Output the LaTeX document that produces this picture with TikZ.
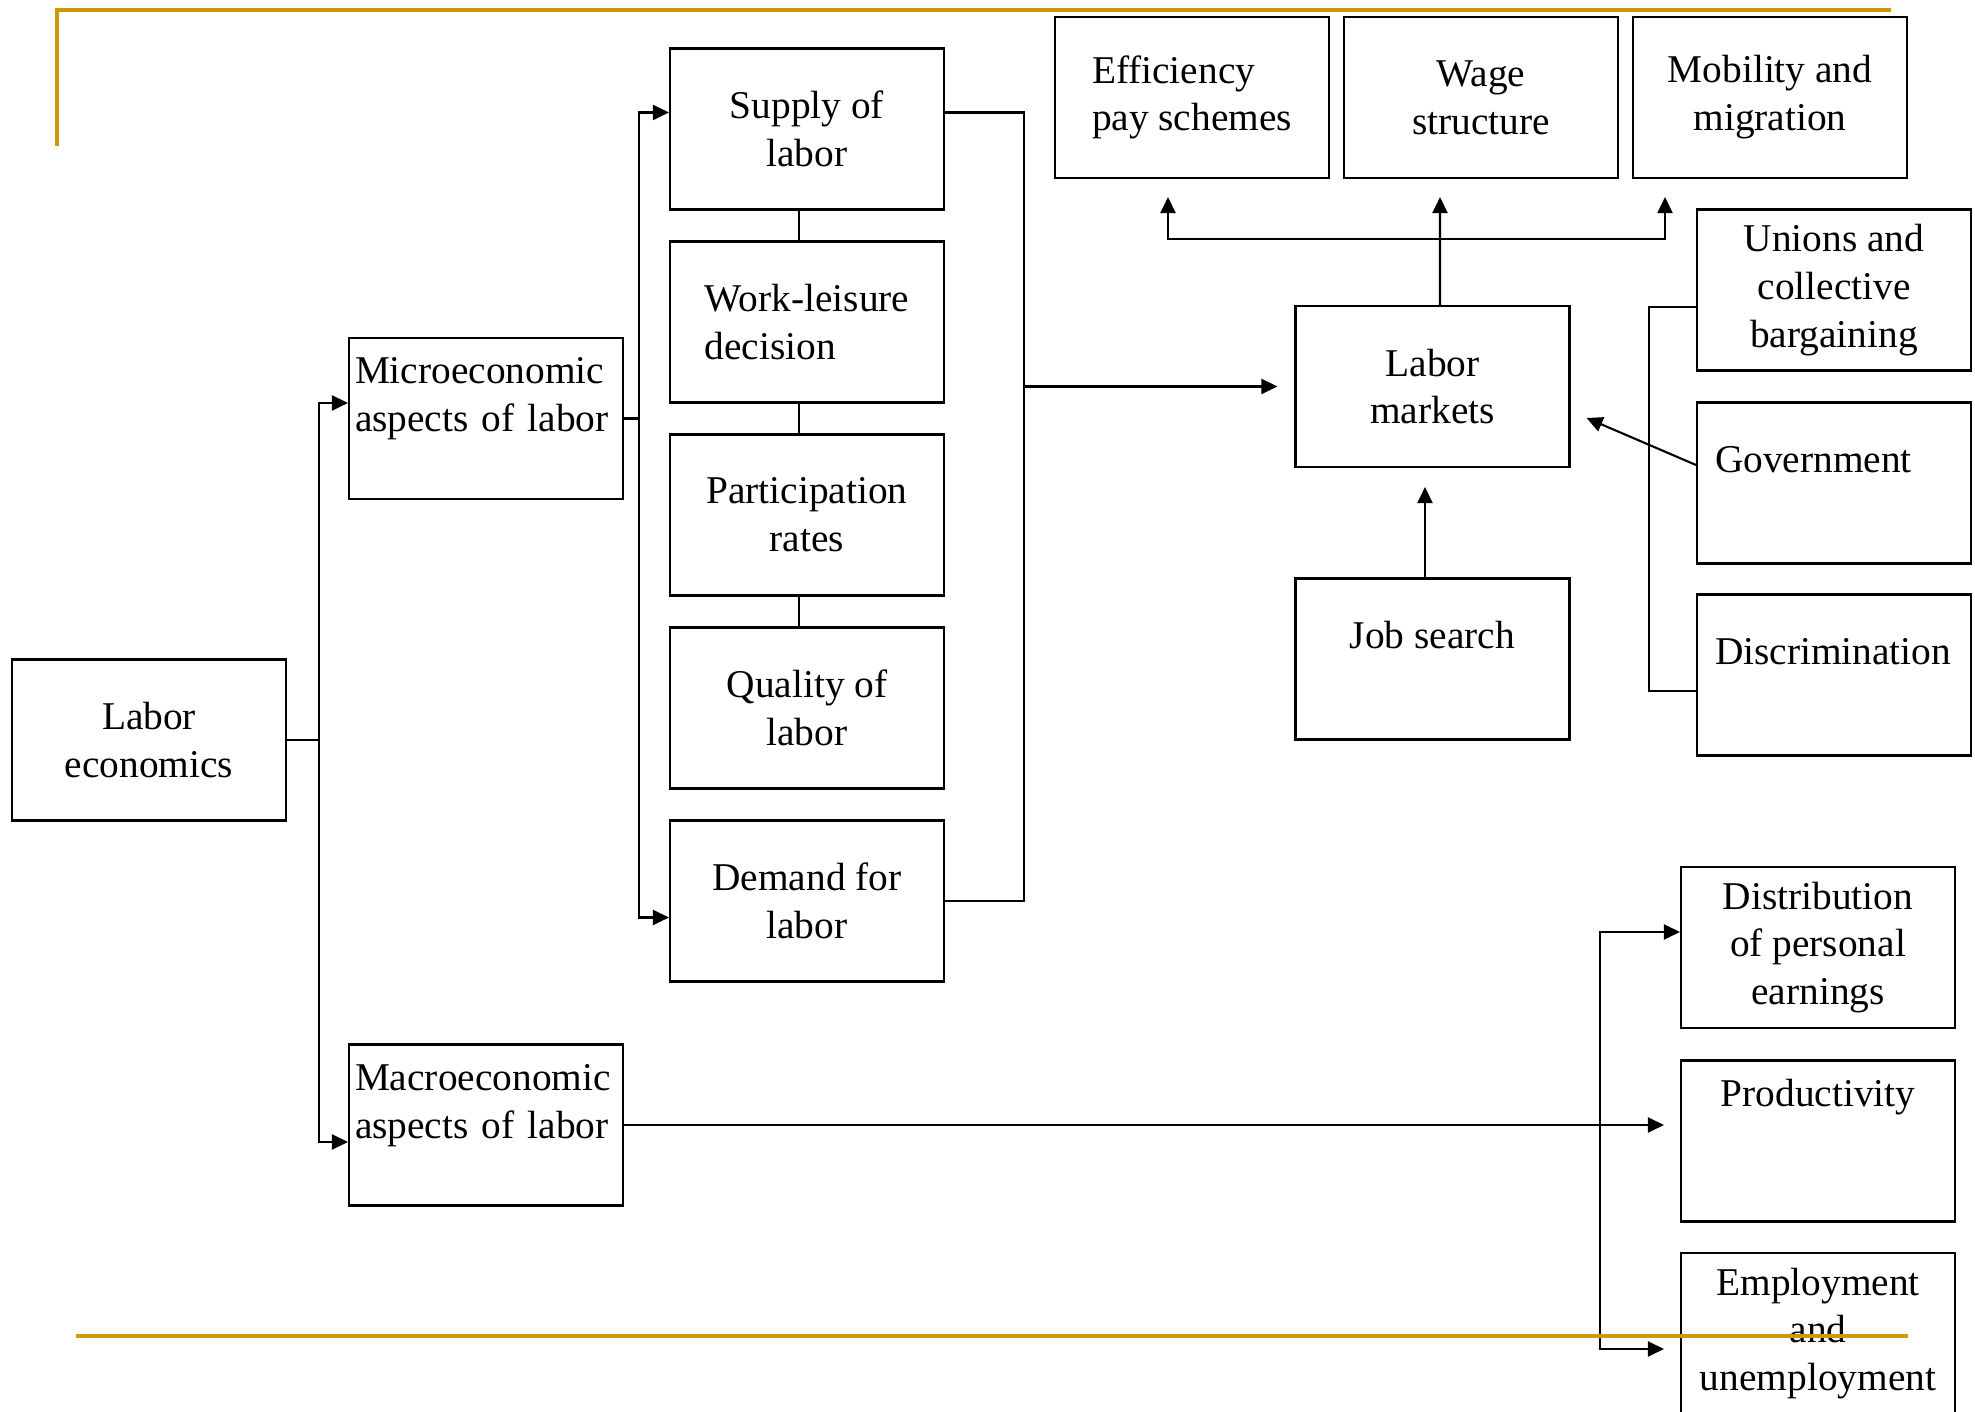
\documentclass[tikz,border=0pt]{standalone}
\usepackage{fontspec}
\setmainfont{Liberation Serif}
\usepackage{tikz}
\usetikzlibrary{math}
\usetikzlibrary{arrows.meta}
\definecolor{gold}{RGB}{204,153,0}
\newcommand{\boxfont}{\fontsize{11.2}{13.6}\selectfont}
\tikzset{
  box/.style={draw,line width=0.6pt,minimum width=2.74cm,minimum height=1.61cm,inner sep=0pt,align=center,font=\boxfont},
  link/.style={line width=0.6pt},
  arr/.style={line width=0.6pt,-{Triangle[length=1.6mm,width=1.5mm]}},
  rule/.style={gold,line width=1.2pt}
}

\begin{document}
\begin{tikzpicture}
\useasboundingbox (0,0) rectangle (19.75,14.12);
\tikzmath{
\colx=8.07;
\dy=1.93;
\topy=13.145;
\midx=14.325;
\rx=18.34;
\lx=18.18;
}
%%%% gold rule at the top
\draw[rule] (0.57,12.66) -- (0.57,14.02) -- (18.91,14.02);
%%%%%% left part
\node[box] (econ) at (1.49,6.72) {Labor\\economics};
\node[box,text width=2.62cm,align=left] (micro) at (4.86,9.935) {Microeconomic\\aspects of labor\\~};
\node[box,text width=2.62cm,align=left] (macro) at (4.86,2.87) {Macroeconomic\\aspects of labor\\~};
%%%%%% supply column
\node[box] (supply) at (\colx,12.83) {Supply of\\labor};
\node[box,align=left] (work) at (\colx,12.83-\dy) {Work-leisure\\decision};
\node[box] (partic) at (\colx,12.83-2*\dy) {Participation\\rates};
\node[box] (quality) at (\colx,12.83-3*\dy) {Quality of\\labor};
\node[box] (demand) at (\colx,12.83-4*\dy) {Demand for\\labor};
%%%%%% top row
\node[box,align=left] (effic) at (11.92,\topy) {Efficiency\\pay schemes};
\node[box] (wage) at (14.81,\topy) {Wage\\structure};
\node[box] (mobil) at (17.70,\topy) {Mobility and\\migration};
%%%%%% markets
\node[box] (market) at (\midx,10.255) {Labor\\markets};
\node[box] (search) at (\midx,7.53) {Job search\\~};
%%%%%% institutions
\node[box] (unions) at (\rx,11.22) {Unions and\\collective\\bargaining};
\node[box,text width=2.38cm,align=left] (govt) at (\rx,9.29) {Government\\~};
\node[box,text width=2.38cm,align=left] (discr) at (\rx,7.37) {Discrimination\\~};
%%%%%% macro outcomes
\node[box] (distr) at (\lx,4.645) {Distribution\\of personal\\earnings};
\node[box] (produ) at (\lx,2.71) {Productivity\\~\\~};
\node[box] (emplo) at (\lx,0.785) {Employment\\and\\unemployment};
%%%% labor economics -> micro / macro
\draw[arr] (econ.east) -- ++(0.32,0) |- ([yshift=1.55mm]micro.west);
\draw[arr] (econ.east) -- ++(0.32,0) |- ([yshift=-1.7mm]macro.west);
%%%% micro -> supply / demand
\draw[arr] (micro.east) -- ++(0.15,0) |- ([yshift=1.65mm]supply.west);
\draw[arr] (micro.east) -- ++(0.15,0) |- ([yshift=-1.65mm]demand.west);
\foreach \a/\b in {supply/work,work/partic,partic/quality} {
    \draw[link] ([xshift=-0.8mm]\a.south) -- ([xshift=-0.8mm]\b.north);
}
%%%% supply + demand -> labor markets
\path ([yshift=1.65mm]supply.east) ++(0.79,0) coordinate (rbus);
\draw[link] ([yshift=1.65mm]supply.east) -- (rbus) |- (demand.east);
\draw[arr] (rbus |- market.west) -- ([xshift=-1.7mm]market.west);
%%%% labor markets -> top row
\path ([xshift=0.75mm]market.north) ++(0,0.66) coordinate (fork);
\draw[arr] ([xshift=0.75mm]market.north) -- ([xshift=-4.1mm,yshift=-1.8mm]wage.south);
\draw[arr] (fork) -| ([xshift=-2.4mm,yshift=-1.8mm]effic.south);
\draw[arr] (fork) -| ([xshift=-10.5mm,yshift=-1.8mm]mobil.south);
%%%% job search, institutions
\draw[arr] ([xshift=-0.75mm]search.north) -- ([xshift=-0.75mm,yshift=-1.9mm]market.south);
\draw[link] ([yshift=-1.7mm]unions.west) -- ++(-0.47,0) |- ([yshift=-1.6mm]discr.west);
\draw[arr] ([yshift=1.8mm]govt.west) -- ([xshift=1.6mm,yshift=-3.15mm]market.east);
%%%% macro -> outcomes
\path ([xshift=-8mm]distr.west) coordinate (split);
\draw[arr,shorten >=1.6mm] (macro.east) -- (macro.east -| produ.west);
\draw[arr] (macro.east -| split) |- ([yshift=1.55mm]distr.west);
\draw[arr] (macro.east -| split) |- ([xshift=-1.6mm,yshift=-1.55mm]emplo.west);
%%%% gold rule at the bottom
\draw[rule] (0.76,0.76) -- (19.08,0.76);
\end{tikzpicture}
\end{document}
